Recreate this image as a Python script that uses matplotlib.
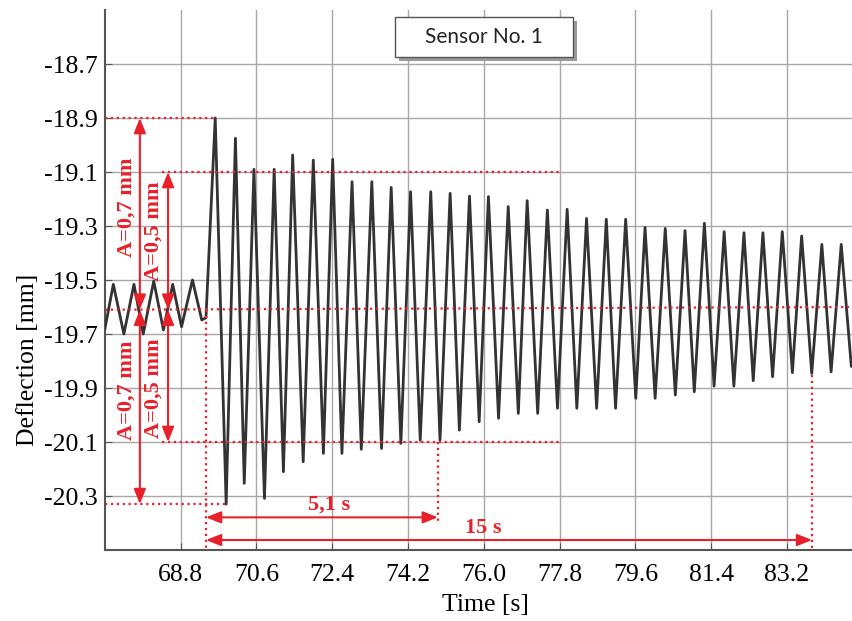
import matplotlib
matplotlib.use("Agg")
import matplotlib.pyplot as plt
from matplotlib.patches import Rectangle

# extrema: time [s], deflection [mm]
t_pts = [67.00, 67.20, 67.45, 67.69, 67.91, 68.16, 68.39, 68.61, 68.82, 69.08, 69.30, 69.40,
         69.62, 69.88, 70.10, 70.31, 70.54, 70.79, 71.02, 71.24, 71.46, 71.71, 71.95, 72.19,
         72.41, 72.63, 72.87, 73.09, 73.34, 73.57, 73.80, 74.03, 74.26, 74.49, 74.74, 74.96,
         75.20, 75.42, 75.66, 75.89, 76.11, 76.35, 76.58, 76.82, 77.03, 77.28, 77.51, 77.75,
         77.98, 78.21, 78.44, 78.68, 78.91, 79.13, 79.37, 79.61, 79.83, 80.07, 80.31, 80.55,
         80.78, 81.00, 81.24, 81.47, 81.71, 81.94, 82.18, 82.40, 82.63, 82.86, 83.09, 83.33,
         83.55, 83.79, 84.03, 84.25, 84.49, 84.73, 84.77]
d_pts = [-19.68, -19.516, -19.70, -19.516, -19.70, -19.504, -19.685, -19.516, -19.673, -19.50, -19.648, -19.64,
         -18.90, -20.33, -18.975, -20.253, -19.09, -20.309, -19.09, -20.21, -19.037, -20.173, -19.056, -20.142,
         -19.053, -20.142, -19.136, -20.127, -19.136, -20.124, -19.157, -20.105, -19.173, -20.093, -19.173, -20.093,
         -19.179, -20.056, -19.189, -20.025, -19.191, -20.012, -19.228, -19.994, -19.206, -19.994, -19.241, -19.975,
         -19.238, -19.975, -19.272, -19.975, -19.275, -19.975, -19.275, -19.938, -19.305, -19.938, -19.309, -19.926,
         -19.317, -19.914, -19.29, -19.893, -19.321, -19.893, -19.325, -19.873, -19.325, -19.858, -19.321, -19.843,
         -19.337, -19.846, -19.368, -19.84, -19.368, -19.82, -19.81]

x_ticks = [68.8, 70.6, 72.4, 74.2, 76.0, 77.8, 79.6, 81.4, 83.2]
y_ticks = [-18.7, -18.9, -19.1, -19.3, -19.5, -19.7, -19.9, -20.1, -20.3]

# annotation levels
y_max, y_top2, y_mean, y_bot2, y_min = -18.9, -19.1, -19.61, -20.1, -20.33
t_start, t_51, t_15 = 69.40, 74.91, 83.80

RED = "#e8202a"
plt.rcParams["axes.unicode_minus"] = False

fig = plt.figure(figsize=(8.53, 6.21), dpi=100)
ax = fig.add_axes([0.123, 0.1143, 0.877, 0.8696])

ax.plot(t_pts, d_pts, color="#333333", lw=2.0, zorder=3, solid_joinstyle="round")

ax.set_xlim(67.0, 84.77)
ax.set_ylim(-20.5, -18.5)
ax.set_xticks(x_ticks)
ax.set_yticks(y_ticks)
ax.set_xticklabels(["%.1f" % v for v in x_ticks], family="Liberation Serif", fontsize=18.5)
ax.set_yticklabels(["%.1f" % v for v in y_ticks], family="Liberation Serif", fontsize=18.5)
ax.tick_params(axis="both", direction="in", length=5, color="#555555")
ax.tick_params(axis="x", pad=10)
ax.tick_params(axis="y", pad=5)
ax.grid(True, color="#a8a8a8", lw=1.0)
for s in ["top", "right"]:
    ax.spines[s].set_visible(False)
for s in ["left", "bottom"]:
    ax.spines[s].set_color("#555555")
    ax.spines[s].set_linewidth(1.5)

ax.text(-0.103, 0.352, "Deflection [mm]", transform=ax.transAxes, rotation=90,
        ha="center", va="center", family="Liberation Serif", fontsize=18.5)
ax.text(0.508, -0.102, "Time [s]", transform=ax.transAxes,
        ha="center", va="center", family="Liberation Serif", fontsize=18.5)

# red dotted guide lines
dot = dict(color=RED, ls=":", lw=1.6, zorder=4)
ax.plot([67.0, 69.60], [y_max, y_max], **dot)
ax.plot([68.35, 77.8], [y_top2, y_top2], **dot)
ax.plot([67.0, 84.77], [y_mean, -19.60], **dot)
ax.plot([68.35, 77.8], [y_bot2, y_bot2], **dot)
ax.plot([67.0, 69.88], [y_min, y_min], **dot)
ax.plot([t_start, t_start], [y_mean, -20.5], **dot)
ax.plot([t_51, t_51], [y_bot2, -20.40], **dot)
ax.plot([t_15, t_15], [-19.85, -20.5], **dot)


def arrow(p0, p1):
    ax.annotate("", xy=p1, xytext=p0,
                arrowprops=dict(arrowstyle="<|-|>,head_length=0.5,head_width=0.2", color=RED, lw=1.5,
                                shrinkA=0, shrinkB=0, mutation_scale=18),
                zorder=5)


arrow((67.83, y_max), (67.83, y_mean))
arrow((67.83, y_mean), (67.83, y_min))
arrow((68.50, y_top2), (68.50, y_mean))
arrow((68.50, y_mean), (68.50, y_bot2))
arrow((t_start, -20.379), (t_51, -20.379))
arrow((t_start, -20.463), (t_15, -20.463))

bold = dict(color=RED, family="Liberation Serif", fontsize=16, fontweight="bold",
            ha="center", va="center", zorder=6)
ax.text(67.52, -19.23, "A=0,7 mm", rotation=90, **bold)
ax.text(67.52, -19.91, "A=0,7 mm", rotation=90, **bold)
ax.text(68.15, -19.32, "A=0,5 mm", rotation=90, **bold)
ax.text(68.15, -19.90, "A=0,5 mm", rotation=90, **bold)
ax.text(72.33, -20.333, "5,1 s", **bold)
ax.text(75.98, -20.42, "15 s", **bold)

# legend-like box
ax.add_patch(Rectangle((0.393, 0.906), 0.238, 0.074, transform=ax.transAxes,
                       facecolor="#9a9a9a", edgecolor="none", zorder=7, clip_on=False))
ax.add_patch(Rectangle((0.388, 0.9135), 0.238, 0.074, transform=ax.transAxes,
                       facecolor="white", edgecolor="#555555", lw=1.0, zorder=8, clip_on=False))
ax.text(0.507, 0.9505, "Sensor No. 1", transform=ax.transAxes, ha="center", va="center",
        family="Lato", fontsize=15, color="#222222", zorder=9)

fig.savefig("out.png", dpi=100)
